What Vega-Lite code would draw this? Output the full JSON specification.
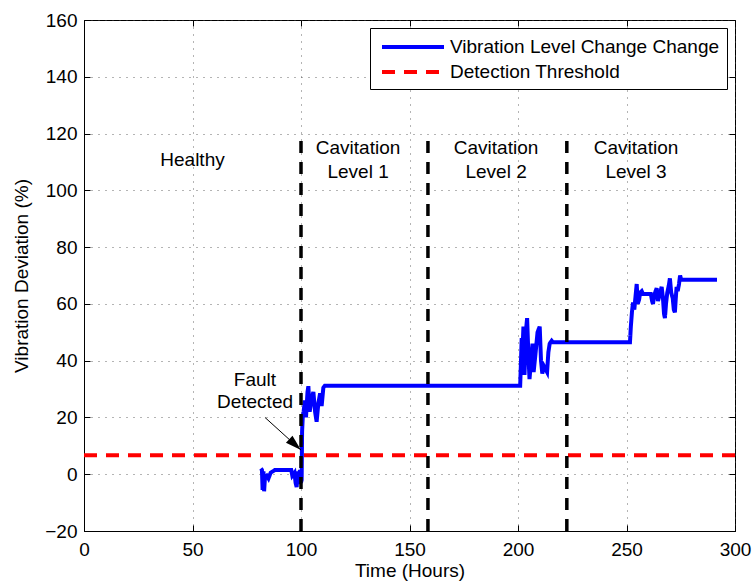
{
  "$schema": "https://vega.github.io/schema/vega-lite/v6.json",
  "width": 651,
  "height": 511,
  "autosize": {"type": "none"},
  "padding": {"left": 84, "top": 20, "right": 18, "bottom": 56},
  "background": "white",
  "config": {
    "font": "Liberation Sans",
    "view": {"stroke": "black", "strokeWidth": 1},
    "axis": {
      "labelFont": "Liberation Sans",
      "labelFontSize": 19,
      "labelColor": "black",
      "titleFont": "Liberation Sans",
      "titleFontSize": 19,
      "titleFontWeight": "normal",
      "titleColor": "black",
      "domainColor": "black",
      "tickColor": "black",
      "tickSize": -6,
      "gridColor": "#444444",
      "gridDash": [1, 6],
      "gridOpacity": 0.8,
      "gridWidth": 1
    },
    "legend": {
      "orient": "top-right",
      "offset": 8,
      "strokeColor": "black",
      "fillColor": "white",
      "padding": 7,
      "labelFont": "Liberation Sans",
      "labelFontSize": 19,
      "labelColor": "black",
      "labelLimit": 400,
      "symbolType": "M-3.1,0L3.1,0",
      "symbolSize": 400,
      "symbolStrokeWidth": 4,
      "symbolOffset": 24,
      "labelOffset": 25,
      "rowPadding": 3
    }
  },
  "resolve": {"axis": {"x": "independent", "y": "independent"}},
  "layer": [
    {
      "data": {
        "values": [
          {"t": 81.5, "v": 2, "series": "Vibration Level Change Change"},
          {"t": 82.0, "v": 1.5, "series": "Vibration Level Change Change"},
          {"t": 82.3, "v": -5.5, "series": "Vibration Level Change Change"},
          {"t": 82.7, "v": 1, "series": "Vibration Level Change Change"},
          {"t": 83.0, "v": -6, "series": "Vibration Level Change Change"},
          {"t": 83.4, "v": -1, "series": "Vibration Level Change Change"},
          {"t": 84.2, "v": -0.5, "series": "Vibration Level Change Change"},
          {"t": 85.0, "v": -1.5, "series": "Vibration Level Change Change"},
          {"t": 86.0, "v": 0.5, "series": "Vibration Level Change Change"},
          {"t": 87.0, "v": 1, "series": "Vibration Level Change Change"},
          {"t": 88.0, "v": 1.5, "series": "Vibration Level Change Change"},
          {"t": 95.0, "v": 1.5, "series": "Vibration Level Change Change"},
          {"t": 95.5, "v": 1.5, "series": "Vibration Level Change Change"},
          {"t": 96.0, "v": -0.5, "series": "Vibration Level Change Change"},
          {"t": 97.0, "v": 0.5, "series": "Vibration Level Change Change"},
          {"t": 97.5, "v": -3, "series": "Vibration Level Change Change"},
          {"t": 98.0, "v": -4.5, "series": "Vibration Level Change Change"},
          {"t": 98.5, "v": 1, "series": "Vibration Level Change Change"},
          {"t": 99.0, "v": -3.5, "series": "Vibration Level Change Change"},
          {"t": 99.5, "v": 1.5, "series": "Vibration Level Change Change"},
          {"t": 100.0, "v": -3, "series": "Vibration Level Change Change"},
          {"t": 100.3, "v": -2, "series": "Vibration Level Change Change"},
          {"t": 100.5, "v": 15, "series": "Vibration Level Change Change"},
          {"t": 100.8, "v": 20, "series": "Vibration Level Change Change"},
          {"t": 101.2, "v": 22, "series": "Vibration Level Change Change"},
          {"t": 101.8, "v": 26, "series": "Vibration Level Change Change"},
          {"t": 102.3, "v": 20, "series": "Vibration Level Change Change"},
          {"t": 103.0, "v": 29, "series": "Vibration Level Change Change"},
          {"t": 103.4, "v": 31, "series": "Vibration Level Change Change"},
          {"t": 104.0, "v": 22, "series": "Vibration Level Change Change"},
          {"t": 105.0, "v": 27, "series": "Vibration Level Change Change"},
          {"t": 105.7, "v": 29, "series": "Vibration Level Change Change"},
          {"t": 106.5, "v": 22, "series": "Vibration Level Change Change"},
          {"t": 107.2, "v": 18.5, "series": "Vibration Level Change Change"},
          {"t": 108.0, "v": 25, "series": "Vibration Level Change Change"},
          {"t": 108.8, "v": 28.5, "series": "Vibration Level Change Change"},
          {"t": 109.5, "v": 24, "series": "Vibration Level Change Change"},
          {"t": 110.3, "v": 30.5, "series": "Vibration Level Change Change"},
          {"t": 111.0, "v": 31.2, "series": "Vibration Level Change Change"},
          {"t": 201.0, "v": 31.2, "series": "Vibration Level Change Change"},
          {"t": 201.3, "v": 38, "series": "Vibration Level Change Change"},
          {"t": 201.7, "v": 48, "series": "Vibration Level Change Change"},
          {"t": 202.0, "v": 42, "series": "Vibration Level Change Change"},
          {"t": 202.5, "v": 52, "series": "Vibration Level Change Change"},
          {"t": 203.0, "v": 35, "series": "Vibration Level Change Change"},
          {"t": 203.6, "v": 50, "series": "Vibration Level Change Change"},
          {"t": 204.2, "v": 55, "series": "Vibration Level Change Change"},
          {"t": 204.8, "v": 42, "series": "Vibration Level Change Change"},
          {"t": 205.3, "v": 33.5, "series": "Vibration Level Change Change"},
          {"t": 206.0, "v": 40, "series": "Vibration Level Change Change"},
          {"t": 206.7, "v": 46, "series": "Vibration Level Change Change"},
          {"t": 207.2, "v": 36, "series": "Vibration Level Change Change"},
          {"t": 208.0, "v": 42, "series": "Vibration Level Change Change"},
          {"t": 209.0, "v": 50, "series": "Vibration Level Change Change"},
          {"t": 210.0, "v": 52, "series": "Vibration Level Change Change"},
          {"t": 210.6, "v": 40, "series": "Vibration Level Change Change"},
          {"t": 211.2, "v": 35.5, "series": "Vibration Level Change Change"},
          {"t": 212.0, "v": 38, "series": "Vibration Level Change Change"},
          {"t": 213.4, "v": 36, "series": "Vibration Level Change Change"},
          {"t": 214.0, "v": 43, "series": "Vibration Level Change Change"},
          {"t": 214.6, "v": 46, "series": "Vibration Level Change Change"},
          {"t": 215.5, "v": 47, "series": "Vibration Level Change Change"},
          {"t": 216.0, "v": 46.5, "series": "Vibration Level Change Change"},
          {"t": 251.6, "v": 46.5, "series": "Vibration Level Change Change"},
          {"t": 252.0, "v": 52, "series": "Vibration Level Change Change"},
          {"t": 252.5, "v": 57, "series": "Vibration Level Change Change"},
          {"t": 253.0, "v": 60.5, "series": "Vibration Level Change Change"},
          {"t": 253.6, "v": 58, "series": "Vibration Level Change Change"},
          {"t": 254.2, "v": 63, "series": "Vibration Level Change Change"},
          {"t": 254.7, "v": 67, "series": "Vibration Level Change Change"},
          {"t": 255.2, "v": 60, "series": "Vibration Level Change Change"},
          {"t": 255.8, "v": 61.5, "series": "Vibration Level Change Change"},
          {"t": 256.3, "v": 64, "series": "Vibration Level Change Change"},
          {"t": 257.0, "v": 64.5, "series": "Vibration Level Change Change"},
          {"t": 257.6, "v": 63.5, "series": "Vibration Level Change Change"},
          {"t": 261.2, "v": 63.5, "series": "Vibration Level Change Change"},
          {"t": 261.8, "v": 61, "series": "Vibration Level Change Change"},
          {"t": 262.2, "v": 60, "series": "Vibration Level Change Change"},
          {"t": 262.8, "v": 63, "series": "Vibration Level Change Change"},
          {"t": 263.4, "v": 64.5, "series": "Vibration Level Change Change"},
          {"t": 263.9, "v": 65.5, "series": "Vibration Level Change Change"},
          {"t": 264.5, "v": 61, "series": "Vibration Level Change Change"},
          {"t": 265.2, "v": 63, "series": "Vibration Level Change Change"},
          {"t": 266.2, "v": 66, "series": "Vibration Level Change Change"},
          {"t": 266.8, "v": 62, "series": "Vibration Level Change Change"},
          {"t": 267.3, "v": 56.5, "series": "Vibration Level Change Change"},
          {"t": 267.7, "v": 55, "series": "Vibration Level Change Change"},
          {"t": 268.2, "v": 60, "series": "Vibration Level Change Change"},
          {"t": 268.8, "v": 64, "series": "Vibration Level Change Change"},
          {"t": 269.5, "v": 66.5, "series": "Vibration Level Change Change"},
          {"t": 270.0, "v": 69, "series": "Vibration Level Change Change"},
          {"t": 270.6, "v": 64, "series": "Vibration Level Change Change"},
          {"t": 271.3, "v": 62, "series": "Vibration Level Change Change"},
          {"t": 271.8, "v": 58, "series": "Vibration Level Change Change"},
          {"t": 272.3, "v": 57, "series": "Vibration Level Change Change"},
          {"t": 272.8, "v": 63, "series": "Vibration Level Change Change"},
          {"t": 273.1, "v": 66, "series": "Vibration Level Change Change"},
          {"t": 273.6, "v": 64.5, "series": "Vibration Level Change Change"},
          {"t": 274.2, "v": 67, "series": "Vibration Level Change Change"},
          {"t": 274.7, "v": 70, "series": "Vibration Level Change Change"},
          {"t": 275.2, "v": 68.5, "series": "Vibration Level Change Change"},
          {"t": 291.7, "v": 68.5, "series": "Vibration Level Change Change"},
          {"t": 0, "v": 6.7, "series": "Detection Threshold"},
          {"t": 300, "v": 6.7, "series": "Detection Threshold"}
        ]
      },
      "mark": {"type": "line", "strokeWidth": 4, "clip": true},
      "encoding": {
        "x": {
          "field": "t", "type": "quantitative",
          "scale": {"domain": [0, 300], "nice": false, "zero": false},
          "axis": {"orient": "bottom", "values": [0, 50, 100, 150, 200, 250, 300], "title": "Time (Hours)", "grid": true, "labelPadding": 15, "titlePadding": 2, "labelFlush": false}
        },
        "y": {
          "field": "v", "type": "quantitative",
          "scale": {"domain": [-20, 160], "nice": false, "zero": false},
          "axis": {"orient": "left", "values": [-20, 0, 20, 40, 60, 80, 100, 120, 140, 160], "title": "Vibration Deviation (%)", "grid": true, "labelPadding": 13, "titlePadding": 13, "labelFlush": false}
        },
        "color": {
          "field": "series", "type": "nominal",
          "scale": {"domain": ["Vibration Level Change Change", "Detection Threshold"], "range": ["#0000ff", "#ff0000"]},
          "legend": {"title": null}
        },
        "strokeDash": {
          "field": "series", "type": "nominal",
          "scale": {"domain": ["Vibration Level Change Change", "Detection Threshold"], "range": [[1, 0], [13, 9]]},
          "legend": {"title": null}
        }
      }
    },
    {
      "data": {"values": [{"t": 100}, {"t": 158.5}, {"t": 222.5}]},
      "mark": {"type": "rule", "color": "black", "strokeWidth": 3.5, "strokeDash": [12, 9]},
      "encoding": {
        "x": {"field": "t", "type": "quantitative", "axis": null},
        "y": {"datum": -20, "type": "quantitative", "axis": null},
        "y2": {"datum": 120}
      }
    },
    {
      "data": {"values": [{"t": 83.4, "v": 20}, {"t": 100, "v": 8.5}]},
      "mark": {"type": "line", "color": "black", "strokeWidth": 1},
      "encoding": {
        "x": {"field": "t", "type": "quantitative", "axis": null},
        "y": {"field": "v", "type": "quantitative", "axis": null}
      }
    },
    {
      "data": {"values": [{"t": 100, "v": 8.5}]},
      "mark": {"type": "point", "shape": "M0,0L-0.3,1L0.3,1Z", "angle": 132.5, "size": 1024, "filled": true, "color": "black", "opacity": 1},
      "encoding": {
        "x": {"field": "t", "type": "quantitative", "axis": null},
        "y": {"field": "v", "type": "quantitative", "axis": null}
      }
    },
    {
      "data": {"values": [
        {"t": 50, "v": 110.6, "label": "Healthy"},
        {"t": 78.8, "v": 33.1, "label": "Fault\nDetected"}
      ]},
      "mark": {"type": "text", "fontSize": 19, "font": "Liberation Sans", "color": "black", "align": "center", "baseline": "middle", "lineBreak": "\n", "lineHeight": 22},
      "encoding": {
        "x": {"field": "t", "type": "quantitative", "axis": null},
        "y": {"field": "v", "type": "quantitative", "axis": null},
        "text": {"field": "label"}
      }
    },
    {
      "data": {"values": [
        {"t": 126.3, "v": 114.8, "label": "Cavitation\nLevel 1"},
        {"t": 189.9, "v": 114.8, "label": "Cavitation\nLevel 2"},
        {"t": 254.4, "v": 114.8, "label": "Cavitation\nLevel 3"}
      ]},
      "mark": {"type": "text", "fontSize": 19, "font": "Liberation Sans", "color": "black", "align": "center", "baseline": "middle", "lineBreak": "\n", "lineHeight": 24},
      "encoding": {
        "x": {"field": "t", "type": "quantitative", "axis": null},
        "y": {"field": "v", "type": "quantitative", "axis": null},
        "text": {"field": "label"}
      }
    },
    {
      "data": {"values": [{"t": 0, "v": -20}]},
      "mark": {"type": "point", "opacity": 0},
      "encoding": {
        "x": {"field": "t", "type": "quantitative", "axis": {"orient": "top", "values": [0, 50, 100, 150, 200, 250, 300], "labels": false, "title": null, "domain": false, "grid": false, "tickSize": -6}},
        "y": {"field": "v", "type": "quantitative", "axis": {"orient": "right", "values": [-20, 0, 20, 40, 60, 80, 100, 120, 140, 160], "labels": false, "title": null, "domain": false, "grid": false, "tickSize": -6}}
      }
    }
  ]
}
